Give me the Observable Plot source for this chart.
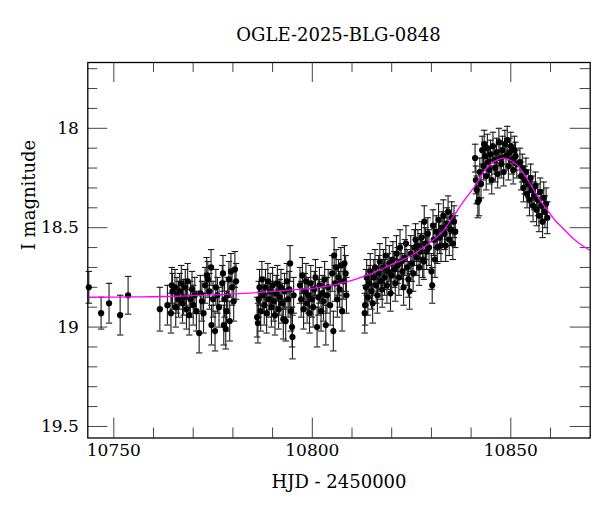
<!DOCTYPE html>
<html>
<head>
<meta charset="utf-8">
<script src="https://cdn.jsdelivr.net/npm/d3@7"></script>
<script src="https://cdn.jsdelivr.net/npm/@observablehq/plot@0.6"></script>
<style>
  html, body { margin: 0; padding: 0; background: #fff; }
  #wrap { position: relative; width: 600px; height: 512px; }
  #title { position: absolute; left: 87px; width: 503px; top: 24px; height: 22px; line-height: 22px;
           text-align: center; font-family: "DejaVu Serif", serif; font-size: 18px; color: #000; }
  #chart { position: absolute; left: 0; top: 50px; }
</style>
</head>
<body>
<div id="wrap">
  <div id="title">OGLE-2025-BLG-0848</div>
  <div id="chart"></div>
</div>
<script>
// ---- data: [HJD-2450000, I mag, error] ----
const earlyObs = [
  [10743.7,18.80,0.08],[10746.8,18.93,0.08],[10748.8,18.88,0.10],[10751.6,18.94,0.10],
  [10753.6,18.84,0.095],[10761.6,18.91,0.11]
];
const season1 = [
  [10763.5,18.89,0.10],[10764.4,18.93,0.10],[10764.6,18.79,0.09],[10764.8,18.82,0.09],
  [10765.4,18.80,0.09],[10765.6,18.90,0.10],[10765.9,18.84,0.09],[10766.3,18.86,0.09],
  [10766.6,18.82,0.09],[10767.0,18.78,0.09],[10767.3,18.88,0.10],[10767.6,18.85,0.09],
  [10768.0,18.80,0.09],[10768.3,18.91,0.10],[10768.6,18.77,0.09],[10769.0,18.94,0.10],
  [10769.3,18.86,0.09],[10769.7,18.81,0.09],[10770.0,18.89,0.10],[10770.4,18.84,0.09],
  [10770.8,18.92,0.10],[10771.5,19.03,0.10],[10771.8,18.83,0.09],[10772.2,18.87,0.10],
  [10772.6,18.93,0.10],[10773.0,18.79,0.09],[10773.4,18.74,0.09],[10773.7,18.76,0.09],
  [10774.1,18.82,0.09],[10774.5,18.70,0.09],[10774.6,18.99,0.10],[10775.0,18.86,0.09],
  [10775.5,19.02,0.10],[10775.7,18.80,0.09],[10776.1,18.84,0.09],[10776.5,18.90,0.10],
  [10777.3,18.78,0.09],[10777.5,18.73,0.09],[10777.7,18.99,0.10],[10777.9,18.86,0.09],
  [10778.2,19.01,0.10],[10778.4,18.92,0.10],[10778.7,18.84,0.09],[10779.0,18.76,0.09],
  [10779.2,18.97,0.10],[10779.5,18.72,0.09],[10779.8,18.80,0.09],[10780.2,18.87,0.10],
  [10780.5,18.71,0.09],[10780.8,18.77,0.09]
];
const season2 = [
  [10786.1,18.95,0.10],[10786.3,18.98,0.10],[10786.5,18.86,0.09],[10786.7,18.80,0.09],
  [10787.0,18.92,0.10],[10787.3,18.76,0.09],[10787.6,18.84,0.09],[10787.9,18.89,0.10],
  [10788.2,18.80,0.09],[10788.5,18.93,0.10],[10788.8,18.77,0.09],[10789.1,18.86,0.09],
  [10789.4,18.82,0.09],[10789.7,18.90,0.10],[10790.0,18.79,0.09],[10790.3,18.87,0.10],
  [10790.6,18.94,0.10],[10790.9,18.83,0.09],[10791.2,18.78,0.09],[10791.5,18.91,0.10],
  [10791.8,18.85,0.09],[10792.1,18.80,0.09],[10792.4,18.88,0.10],[10792.7,18.96,0.10],
  [10793.0,18.82,0.09],[10793.3,18.97,0.10],[10793.6,18.77,0.09],[10793.9,18.86,0.09],
  [10794.2,18.81,0.09],[10794.4,18.68,0.09],[10794.6,18.92,0.10],[10794.9,19.00,0.10],
  [10795.0,19.05,0.11],[10795.3,18.84,0.09]
];
const season3 = [
  [10796.9,18.79,0.09],[10797.2,18.86,0.09],[10797.5,18.74,0.09],[10797.8,18.91,0.10],
  [10798.1,18.82,0.09],[10798.4,18.77,0.09],[10798.7,18.88,0.10],[10799.0,18.84,0.09],
  [10799.3,18.93,0.10],[10799.6,18.78,0.09],[10799.9,18.86,0.09],[10800.2,18.90,0.10],
  [10800.5,18.81,0.09],[10800.8,18.75,0.09],[10801.2,19.00,0.10],[10801.5,18.85,0.09],
  [10801.8,18.79,0.09],[10802.2,18.92,0.10],[10802.5,18.83,0.09],[10802.8,18.87,0.10],
  [10803.1,18.76,0.09],[10803.4,18.99,0.10],[10803.7,18.84,0.09],[10804.0,18.80,0.09],
  [10804.5,18.89,0.10],[10805.0,18.73,0.09],[10805.3,19.02,0.10],[10805.5,18.64,0.09],
  [10805.7,18.78,0.09],[10806.0,18.70,0.09],[10806.3,18.86,0.09],[10806.6,18.75,0.09],
  [10806.9,18.81,0.09],[10807.2,18.69,0.09],[10807.5,18.92,0.10],[10807.8,18.77,0.09],
  [10808.1,18.68,0.09],[10808.4,18.73,0.09],[10808.6,18.84,0.09]
];
const season4 = [
  [10813.2,18.93,0.10],[10813.3,18.89,0.10],[10813.5,18.80,0.09],[10813.7,18.75,0.09],
  [10814.0,18.85,0.09],[10814.3,18.78,0.09],[10814.6,18.72,0.09],[10814.9,18.82,0.09],
  [10815.2,18.88,0.10],[10815.5,18.75,0.09],[10815.8,18.70,0.09],[10816.1,18.79,0.09],
  [10816.4,18.84,0.09],[10816.7,18.73,0.09],[10817.0,18.67,0.09],[10817.3,18.77,0.09],
  [10817.6,18.81,0.09],[10817.9,18.70,0.09],[10818.2,18.75,0.09],[10818.5,18.64,0.09],
  [10818.8,18.79,0.09],[10819.1,18.72,0.09],[10819.4,18.68,0.09],[10819.7,18.83,0.09],
  [10820.0,18.74,0.09],[10820.3,18.66,0.09],[10820.6,18.71,0.09],[10820.9,18.78,0.09],
  [10821.2,18.63,0.09],[10821.5,18.69,0.09],[10821.8,18.75,0.09],[10822.1,18.60,0.09],
  [10822.4,18.67,0.09],[10822.7,18.72,0.09],[10823.0,18.80,0.09],[10823.3,18.65,0.09],
  [10823.6,18.58,0.09],[10823.9,18.70,0.09],[10824.2,18.76,0.09],[10824.5,18.82,0.09],
  [10824.8,18.63,0.09],[10825.1,18.68,0.09],[10825.4,18.73,0.09],[10825.7,18.60,0.09],
  [10826.0,18.56,0.08],[10826.3,18.65,0.09],[10826.6,18.59,0.08],[10826.9,18.70,0.09],
  [10827.2,18.62,0.09],[10827.5,18.55,0.08],[10827.8,18.66,0.09],[10828.1,18.67,0.09],
  [10828.2,18.47,0.08],[10828.5,18.58,0.08],[10828.8,18.62,0.09],[10829.1,18.53,0.08],
  [10829.4,18.60,0.09],[10830.0,18.72,0.09],[10830.2,18.79,0.09],[10830.4,18.49,0.08],
  [10830.6,18.56,0.08],[10830.9,18.66,0.09],[10831.2,18.52,0.08],[10831.5,18.60,0.08],
  [10831.8,18.46,0.08],[10832.1,18.55,0.08],[10832.4,18.59,0.08],[10832.7,18.50,0.08],
  [10833.0,18.44,0.08],[10833.3,18.53,0.08],[10833.6,18.59,0.08],[10833.9,18.48,0.08],
  [10834.2,18.42,0.08],[10834.5,18.56,0.08],[10834.8,18.51,0.08],[10835.1,18.45,0.08],
  [10835.4,18.58,0.08],[10835.7,18.47,0.08],[10836.0,18.52,0.08]
];
const season5 = [
  [10841.0,18.15,0.07],[10841.2,18.26,0.07],[10841.4,18.31,0.07],[10841.7,18.37,0.08],
  [10842.0,18.36,0.08],[10842.2,18.22,0.07],[10842.5,18.28,0.07],[10842.8,18.11,0.07],
  [10843.1,18.19,0.07],[10843.3,18.08,0.07],[10843.5,18.14,0.07],[10843.8,18.24,0.07],
  [10844.1,18.10,0.07],[10844.3,18.17,0.07],[10844.6,18.21,0.07],[10844.9,18.13,0.07],
  [10845.2,18.26,0.07],[10845.5,18.09,0.07],[10845.8,18.16,0.07],[10846.1,18.20,0.07],
  [10846.4,18.12,0.07],[10846.7,18.23,0.07],[10847.0,18.07,0.07],[10847.3,18.15,0.07],
  [10847.6,18.18,0.07],[10847.9,18.11,0.07],[10848.2,18.22,0.07],[10848.5,18.08,0.07],
  [10848.8,18.14,0.07],[10849.1,18.06,0.07],[10849.4,18.19,0.07],[10849.7,18.12,0.07],
  [10850.0,18.09,0.07],[10850.3,18.16,0.07],[10850.6,18.21,0.07],[10850.9,18.11,0.07],
  [10851.2,18.14,0.07],[10851.5,18.18,0.07],[10852.3,18.17,0.07],[10852.6,18.24,0.07],
  [10852.9,18.20,0.07],[10853.2,18.30,0.07],[10853.5,18.26,0.07],[10853.8,18.22,0.07],
  [10854.1,18.33,0.07],[10854.4,18.28,0.07],[10854.7,18.36,0.08],[10855.0,18.25,0.07],
  [10855.3,18.31,0.07],[10855.6,18.39,0.08],[10855.9,18.34,0.07],[10856.2,18.29,0.07],
  [10856.5,18.41,0.08],[10856.8,18.36,0.08],[10857.1,18.44,0.08],[10857.4,18.32,0.07],
  [10857.7,18.39,0.08],[10858.0,18.47,0.08],[10858.3,18.35,0.08],[10858.6,18.42,0.08],
  [10858.9,18.38,0.08],[10859.2,18.45,0.08]
];
// model curve
const modelHjd = [10743.4,10755,10765,10775,10785,10795,10800,10805,10810,10815,10820,10825,10830,10832.8,10835.3,10838,10840.4,10843.7,10846,10848.3,10851.3,10853,10854.6,10857,10858.8,10861,10863,10866,10868,10870];
const modelMag = [18.850,18.848,18.845,18.838,18.828,18.813,18.805,18.79,18.765,18.73,18.685,18.64,18.57,18.52,18.45,18.37,18.306,18.205,18.165,18.15,18.18,18.22,18.27,18.35,18.40,18.46,18.50,18.56,18.59,18.615];
// axis ticks
const xMajor = [10750, 10800, 10850];
const xMinor = [10760,10770,10780,10790,10810,10820,10830,10840,10860];
const yMajor = [18, 18.5, 19, 19.5];
const yMinor = [17.7,17.8,17.9,18.1,18.2,18.3,18.4,18.6,18.7,18.8,18.9,19.1,19.2,19.3,19.4];

const obs = [...earlyObs, ...season1, ...season2, ...season3, ...season4, ...season5]
  .map(([t, m, e]) => ({t, m, e}));
const model = modelHjd.map((t, i) => ({t, m: modelMag[i]}));

const cap = { draw(ctx, size) { const r = Math.sqrt(size / Math.PI); ctx.moveTo(-r, 0); ctx.lineTo(r, 0); } };

const W = 600, H = 462, mL = 87.3, mR = 10.3, mT = 12, mB = 74.5;
const fw = W - mL - mR, fh = H - mT - mB;
const tickCol = "#444";

const chart = Plot.plot({
  width: W, height: H,
  marginLeft: mL, marginRight: mR, marginTop: mT, marginBottom: mB,
  x: { domain: [10743.45, 10870] },
  y: { domain: [17.669, 19.558], reverse: true },
  style: { fontFamily: "DejaVu Serif", fontSize: "17px", color: "#000", background: "#fff" },
  marks: [
    Plot.ruleX(xMajor, { insetTop: fh - 20, stroke: tickCol, strokeWidth: 1 }),
    Plot.ruleX(xMajor, { insetBottom: fh - 20, stroke: tickCol, strokeWidth: 1 }),
    Plot.ruleX(xMinor, { insetTop: fh - 10, stroke: tickCol, strokeWidth: 1 }),
    Plot.ruleX(xMinor, { insetBottom: fh - 10, stroke: tickCol, strokeWidth: 1 }),
    Plot.ruleY(yMajor, { insetRight: fw - 20, stroke: tickCol, strokeWidth: 1 }),
    Plot.ruleY(yMajor, { insetLeft: fw - 20, stroke: tickCol, strokeWidth: 1 }),
    Plot.ruleY(yMinor, { insetRight: fw - 10, stroke: tickCol, strokeWidth: 1 }),
    Plot.ruleY(yMinor, { insetLeft: fw - 10, stroke: tickCol, strokeWidth: 1 }),
    Plot.axisX({ ticks: xMajor, tickSize: 0, tickPadding: 6, label: null, fontSize: 17, tickFormat: d => String(d) }),
    Plot.axisY({ ticks: yMajor, tickSize: 0, tickPadding: 9, label: null, fontSize: 17, tickFormat: d => String(d) }),
    Plot.ruleX(obs, { x: "t", y1: d => d.m - d.e, y2: d => d.m + d.e, stroke: "#1a1a1a", strokeWidth: 1.1 }),
    Plot.dot(obs, { x: "t", y: d => d.m - d.e, symbol: cap, r: 3.2, stroke: "#1a1a1a", strokeWidth: 1.1, fill: "none" }),
    Plot.dot(obs, { x: "t", y: d => d.m + d.e, symbol: cap, r: 3.2, stroke: "#1a1a1a", strokeWidth: 1.1, fill: "none" }),
    Plot.dot(obs, { x: "t", y: "m", r: 3.1, fill: "#000", stroke: "none" }),
    Plot.line(model, { x: "t", y: "m", stroke: "#ff00ff", strokeWidth: 1.3, curve: "catmull-rom", clip: true }),
    Plot.frame({ stroke: "#000", strokeWidth: 1.3 }),
    Plot.text(["HJD - 2450000"], { frameAnchor: "bottom", dy: 50, fontSize: 18, fill: "#000" }),
    Plot.text(["I magnitude"], { frameAnchor: "left", dx: -59, rotate: -90, fontSize: 18, fill: "#000" })
  ]
});
document.getElementById("chart").appendChild(chart);
</script>
</body>
</html>
